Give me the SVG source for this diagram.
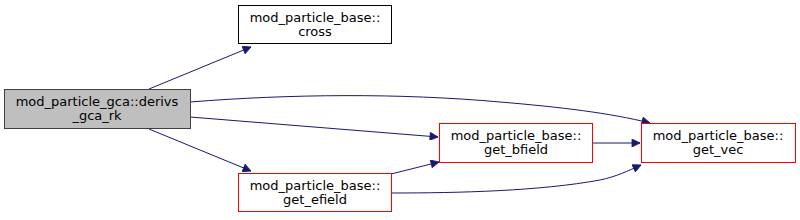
<svg xmlns="http://www.w3.org/2000/svg" width="800" height="220" viewBox="0 0 800 220">
<defs>
<style>
.n text{font-family:"DejaVu Sans",sans-serif;font-size:13px;text-anchor:middle;fill:#000}
.b{fill:#fff;stroke:#000;stroke-width:1}
.r{fill:#fff;stroke:#ff0000;stroke-width:1}
.g{fill:#bfbfbf;stroke:#404040;stroke-width:1}
.e path{fill:none;stroke:#191970;stroke-width:1}
</style>
<marker id="a" viewBox="0 0 10 10" refX="10" refY="5" markerWidth="10" markerHeight="8" markerUnits="userSpaceOnUse" orient="auto">
<path d="M0,0L10,5L0,10z" fill="#191970" stroke="#191970"/>
</marker>
</defs>
<rect width="800" height="220" fill="#fff"/>
<g class="e">
<path d="M149,89 L251,47" marker-end="url(#a)"/>
<path d="M190,102 C290,94 400,93 500,102 C560,107 610,113 650,123" marker-end="url(#a)"/>
<path d="M190,117 L438,137" marker-end="url(#a)"/>
<path d="M149,129 L251,171" marker-end="url(#a)"/>
<path d="M593,143 L640,143" marker-end="url(#a)"/>
<path d="M391,174 L439,162" marker-end="url(#a)"/>
<path d="M391,193 C460,193 540,191 600,180 C615,177 628,171 641,165" marker-end="url(#a)"/>
</g>
<g class="n" id="derivs">
<rect class="g" x="4.5" y="89.5" width="186" height="39"/>
<text x="97" y="105.5">mod_particle_gca::derivs</text>
<text x="97" y="119.5">_gca_rk</text>
</g>
<g class="n" id="cross">
<rect class="b" x="238.5" y="5.5" width="153" height="38"/>
<text x="315" y="22">mod_particle_base::</text>
<text x="315" y="36">cross</text>
</g>
<g class="n" id="get_efield">
<rect class="r" x="238.5" y="173.5" width="153" height="38"/>
<text x="315" y="190">mod_particle_base::</text>
<text x="315" y="204">get_efield</text>
</g>
<g class="n" id="get_bfield">
<rect class="r" x="439.5" y="123.5" width="153" height="39"/>
<text x="516" y="140">mod_particle_base::</text>
<text x="516" y="154">get_bfield</text>
</g>
<g class="n" id="get_vec">
<rect class="r" x="641.5" y="123.5" width="154" height="39"/>
<text x="718" y="140">mod_particle_base::</text>
<text x="718" y="154">get_vec</text>
</g>
</svg>
